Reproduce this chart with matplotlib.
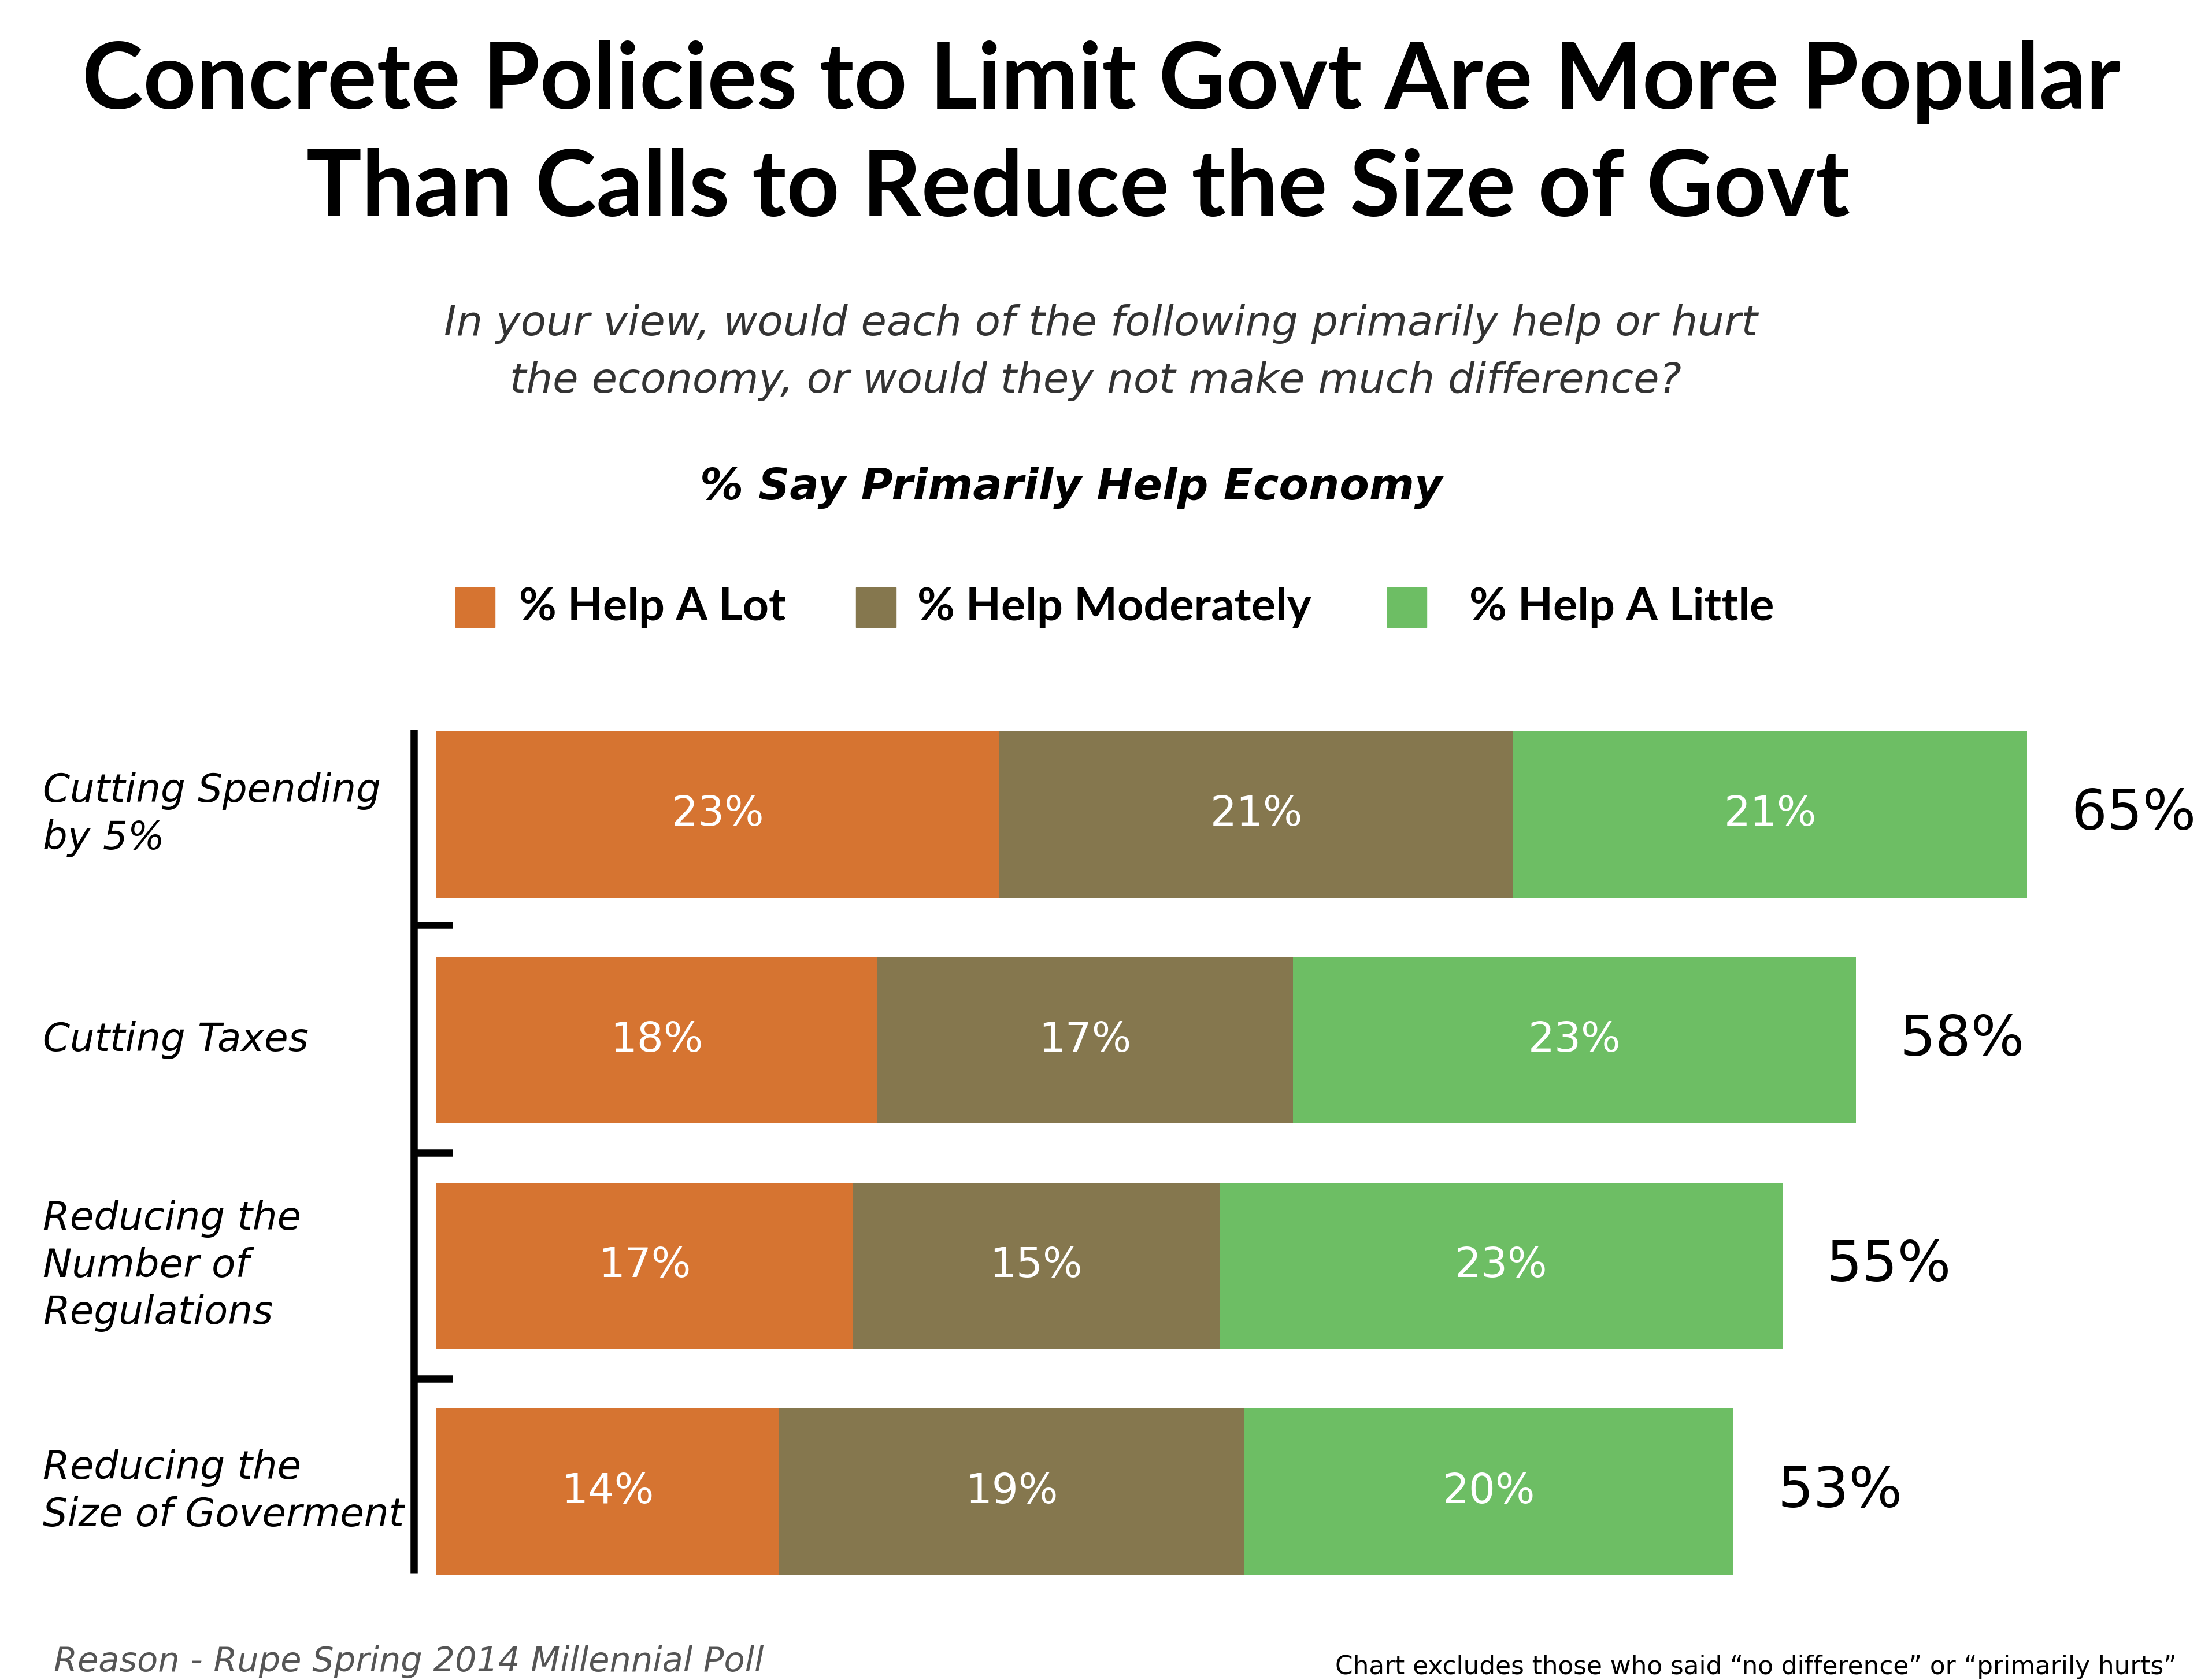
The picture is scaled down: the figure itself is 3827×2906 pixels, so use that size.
"""Stacked bar: % saying each policy would primarily help the economy."""

import matplotlib.pyplot as plt
from matplotlib.patches import Rectangle

CATEGORIES = [
    "Cutting Spending\nby 5%",
    "Cutting Taxes",
    "Reducing the\nNumber of\nRegulations",
    "Reducing the\nSize of Goverment",
]
SERIES = ["% Help A Lot", "% Help Moderately", "% Help A Little"]
HELP_A_LOT = [23, 18, 17, 14]
HELP_MODERATELY = [21, 17, 15, 19]
HELP_A_LITTLE = [21, 23, 23, 20]
TOTALS = [65, 58, 55, 53]
COLORS = ["#D67431", "#85774E", "#6DBE64"]

TITLE_1 = "Concrete Policies to Limit Govt Are More Popular"
TITLE_2 = "Than Calls to Reduce the Size of Govt"
QUESTION_1 = "In your view, would each of the following primarily help or hurt"
QUESTION_2 = "the economy, or would they not make much difference?"
SUBHEAD = "% Say Primarily Help Economy"
SOURCE = "Reason - Rupe Spring 2014 Millennial Poll"
NOTE = "Chart excludes those who said \u201cno difference\u201d or \u201cprimarily hurts\u201d"

plt.rcParams["font.family"] = ["DejaVu Sans"]
BOLD_FAMILY = ["Lato", "DejaVu Sans"]

fig = plt.figure(figsize=(38.27, 29.06), dpi=100)
AX_BOTTOM, AX_HEIGHT = 0.0450, 0.5374
ax = fig.add_axes([0.1974, AX_BOTTOM, 0.7743, AX_HEIGHT])

values = [HELP_A_LOT, HELP_MODERATELY, HELP_A_LITTLE]
y = list(range(len(CATEGORIES)))
left = [0] * len(CATEGORIES)
for vals, color, name in zip(values, COLORS, SERIES):
    ax.barh(y, vals, left=left, height=0.737, color=color, label=name)
    for yi, (l, v) in enumerate(zip(left, vals)):
        ax.text(l + v / 2, yi, f"{v}%", ha="center", va="center",
                color="white", fontsize=52)
    left = [l + v for l, v in zip(left, vals)]

for yi, tot in enumerate(TOTALS):
    ax.text(left[yi] + 1.8, yi, f"{tot}%", ha="left", va="center",
            color="black", fontsize=70)

# category labels, left aligned at the figure edge, centred on each bar
n = len(CATEGORIES)
for yi, cat in enumerate(CATEGORIES):
    fig.text(0.0193, AX_BOTTOM + AX_HEIGHT * (1 - (0.5 + yi) / n), cat,
             ha="left", va="center", fontsize=48.5, style="italic", linespacing=1.3)

# bracket line with separators
ax.plot([-0.93, -0.93], [-0.375, 3.36], color="black", lw=9, clip_on=False,
        solid_capstyle="butt")
for yt in [0.49, 1.50, 2.50]:
    ax.plot([-0.93, 0.64], [yt, yt], color="black", lw=9, clip_on=False,
            solid_capstyle="butt")

ax.set_xlim(0, 70)
ax.set_ylim(3.5, -0.5)
ax.axis("off")

fig.text(0.498, 0.951, TITLE_1, ha="center", va="center", fontsize=115,
         fontweight="bold", family=BOLD_FAMILY)
fig.text(0.4875, 0.887, TITLE_2, ha="center", va="center", fontsize=115,
         fontweight="bold", family=BOLD_FAMILY)
fig.text(0.4977, 0.807, QUESTION_1, ha="center", va="center", fontsize=52,
         style="italic", color="#333333")
fig.text(0.4952, 0.773, QUESTION_2, ha="center", va="center", fontsize=52,
         style="italic", color="#333333")
fig.text(0.4842, 0.7096, SUBHEAD, ha="center", va="center", fontsize=54,
         style="italic", fontweight="bold")

# legend built by hand
sq_x = [0.2058, 0.3871, 0.627]
tx_x = [0.2347, 0.4148, 0.6643]
sq_w, sq_h = 0.018, 0.0237
for name, color, sx, tx in zip(SERIES, COLORS, sq_x, tx_x):
    fig.patches.append(Rectangle((sx, 0.6384 - sq_h / 2), sq_w, sq_h, color=color,
                                 transform=fig.transFigure, figure=fig))
    fig.text(tx, 0.6384, name, ha="left", va="center", fontsize=57,
             fontweight="bold", family=BOLD_FAMILY)

fig.text(0.0244, 0.011, SOURCE, ha="left", va="center", fontsize=42.5,
         style="italic", color="#555555")
fig.text(0.984, 0.0076, NOTE, ha="right", va="center", fontsize=31.5, color="black")

fig.savefig("out.png", dpi=100)
